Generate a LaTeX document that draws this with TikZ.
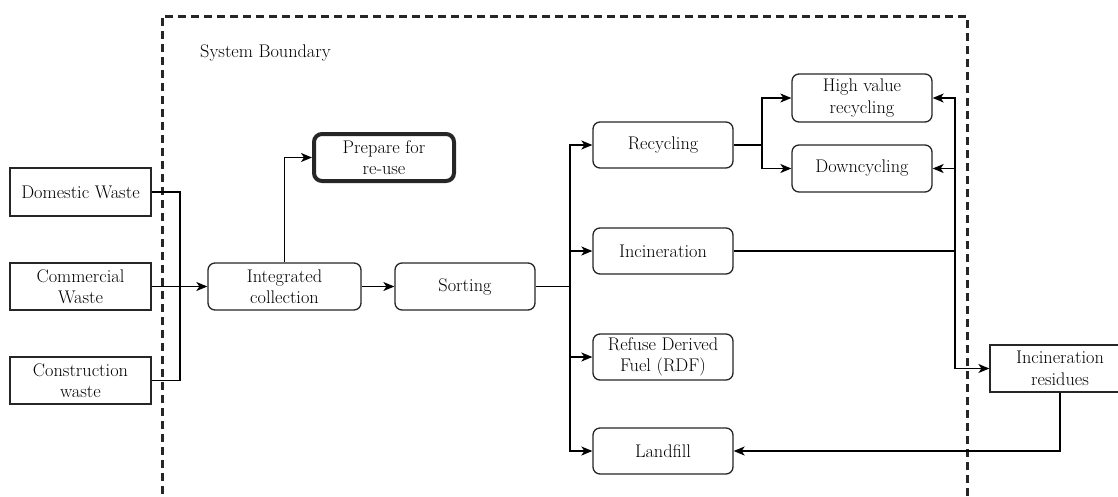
\documentclass[tikz,border=0pt]{standalone}
\usetikzlibrary{arrows.meta}

\tikzset{
  labelfont/.style={font=\rmfamily\fontsize{18.3}{21.5}\selectfont},
  box/.style={draw=black!85, line width=1.3pt, fill=white, align=center,
    inner sep=0pt, labelfont},
  plainbox/.style={box, rectangle},
  roundbox/.style={box, rounded corners=7pt},
  flow/.style={draw=black, line width=1.3pt,
    -{Stealth[length=11pt,width=9pt,inset=3pt]}},
  link/.style={draw=black, line width=1.3pt},
  boundary/.style={draw=black!85, line width=3pt, dash pattern=on 8pt off 5pt}
}

% node placed by its corner box (x1,y1)-(x2,y2)
\newcommand{\boxat}[6]{%
  \node[#1, minimum width=#5pt-#3pt, minimum height=#6pt-#4pt]
    (#2) at ({(#3+#5)/2},{(#4+#6)/2}) }

\begin{document}
\begin{tikzpicture}[x=1pt,y=-1pt]
\useasboundingbox (0,0) rectangle (1118,496);
\clip (0,0) rectangle (1118,496);

% system boundary
\draw[boundary] (162,520) -- (162,16) -- (967,16) -- (967,520);
\node[anchor=west, inner sep=0pt, labelfont] (sb) at (200,53) {System Boundary};

% waste sources
\boxat{plainbox}{dom}{10}{168}{151}{216}{Domestic Waste};
\boxat{plainbox}{com}{10}{263}{151}{310}{Commercial\\Waste};
\boxat{plainbox}{con}{10}{357}{151}{404}{Construction\\waste};

% processing chain
\boxat{roundbox}{col}{208}{263}{361}{310}{Integrated\\collection};
\boxat{roundbox, line width=4pt, rounded corners=8pt}{reuse}{314}{134}{454}{181}{Prepare for\\re-use};
\boxat{roundbox}{sort}{395}{263}{535}{310}{Sorting};

% treatment routes
\boxat{roundbox}{rec}{593}{122}{733}{168}{Recycling};
\boxat{roundbox}{inc}{593}{228}{733}{274}{Incineration};
\boxat{roundbox}{rdf}{593}{334}{733}{380}{Refuse Derived\\Fuel (RDF)};
\boxat{roundbox}{land}{593}{428}{733}{474}{Landfill};

\boxat{roundbox}{hv}{792}{74}{932}{122}{High value\\recycling};
\boxat{roundbox}{down}{792}{145}{932}{192}{Downcycling};

\boxat{plainbox}{res}{990}{345}{1130}{392}{Incineration\\residues};

% junction points, aligned with the boxes they leave from
\coordinate (inbus) at (com.east -| 180,0);
\coordinate (sortbus) at (sort.east -| 570,0);
\coordinate (recbus) at (rec.east -| 762,0);
\coordinate (incbus) at (inc.east -| 955,0);

% sources into collection
\draw[link] (dom.east) -| (inbus);
\draw[link] (con.east) -| (inbus);
\draw[flow] (com.east) -- (col.west);

% collection outputs
\draw[flow] (col.north) |- (reuse.west);
\draw[flow] (col.east) -- (sort.west);

% sorting outputs
\draw[link] (sort.east) -- (sortbus);
\draw[flow] (sortbus) |- (rec.west);
\draw[flow] (sortbus) |- (inc.west);
\draw[flow] (sortbus) |- (rdf.west);
\draw[flow] (sortbus) |- (land.west);

% recycling split
\draw[link] (rec.east) -- (recbus);
\draw[flow] (recbus) |- (hv.west);
\draw[flow] (recbus) |- (down.west);

% incineration outputs
\draw[link] (inc.east) -- (incbus);
\draw[flow] (incbus) |- (hv.east);
\draw[flow] (incbus) |- (down.east);
\draw[flow] (incbus) |- (res.west);

% residues to landfill
\draw[flow] (res.south -| 1060,0) |- (land.east);
\end{tikzpicture}
\end{document}
